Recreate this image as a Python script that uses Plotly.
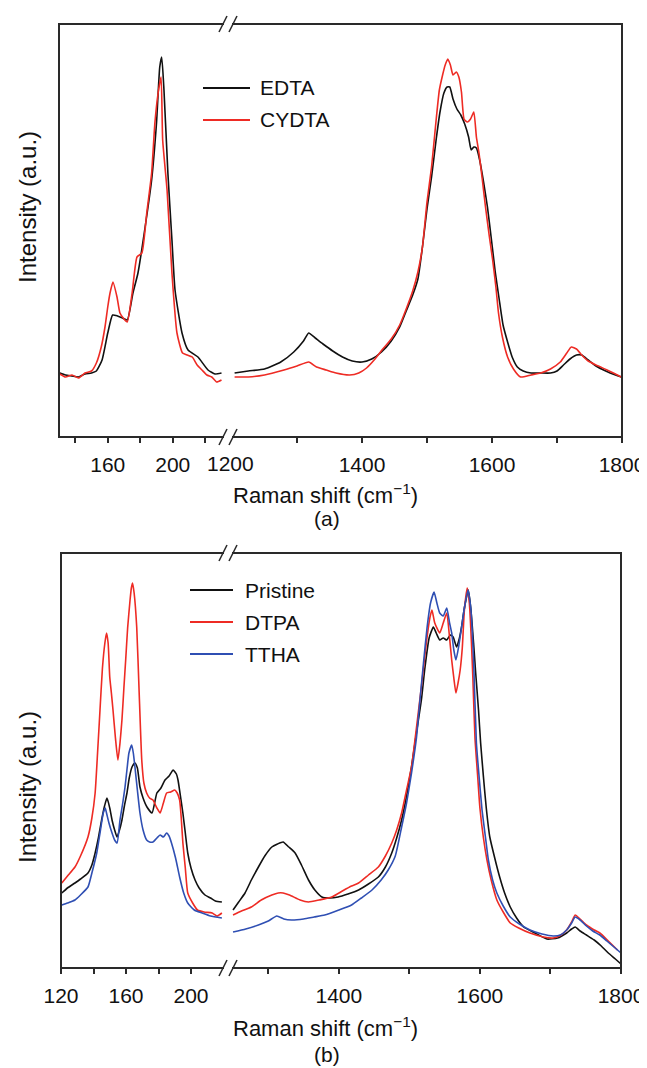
import plotly.graph_objects as go

# ---------------- data (heights in arbitrary units) ----------------
# Panel (a), low-wavenumber section
a_edta_low_x = [130.5, 134, 138, 142, 146, 150, 153, 156.5, 160, 163,
                166, 169, 172, 175.5, 178.6, 183, 187, 190, 192, 193.2,
                194.6, 197, 199.5, 201.4, 205.7, 209.4, 215.5, 221.7, 226, 230]
a_edta_low_y = [64, 62, 61, 60, 63, 64, 66, 77, 104, 122,
                121, 119, 117, 144, 164, 210, 257, 314, 370, 380,
                347, 264, 197, 147, 104, 87, 80, 67, 63, 64]

a_cydta_low_x = [130.5, 134, 138, 142, 146, 150, 153, 156, 158.3, 160,
                 161.4, 163.2, 165.7, 167.5, 170, 172, 175, 178, 181, 184,
                 187, 189, 191, 192.8, 193.8, 196.5, 199.5, 202.6, 206, 209,
                 212, 215, 218, 221, 224, 227, 230]
a_cydta_low_y = [63, 60, 62, 59, 64, 66, 74, 90, 110, 130,
                 144, 155, 140, 124, 118, 115, 144, 180, 184, 224,
                 264, 314, 344, 360, 297, 247, 164, 104, 84, 82,
                 80, 72, 67, 62, 60, 55, 57]

# Panel (a), high-wavenumber section
a_edta_high_x = [1204, 1225, 1250, 1275, 1295, 1310, 1318, 1328, 1340, 1355,
                 1370, 1385, 1400, 1415, 1430, 1445, 1458, 1468, 1478, 1486,
                 1493, 1500, 1507, 1514, 1520, 1526, 1531, 1535, 1540, 1546,
                 1552, 1558, 1564, 1568, 1572, 1576, 1581, 1587, 1593, 1599,
                 1605, 1611, 1617, 1624, 1631, 1639, 1648, 1660, 1675, 1690,
                 1700, 1710, 1720, 1730, 1738, 1748, 1760, 1775, 1790, 1799]
a_edta_high_y = [64, 66, 68, 75, 85, 96, 104, 99, 93, 86,
                 80, 76, 75, 78, 85, 96, 110, 126, 142, 158,
                 190, 228, 260, 297, 325, 344, 350, 350, 338, 328,
                 322, 313, 300, 287, 290, 289, 277, 255, 230, 198,
                 165, 138, 112, 95, 80, 70, 66, 64, 64, 64,
                 66, 72, 78, 82, 82, 77, 71, 66, 62, 60]

a_cydta_high_x = [1204, 1225, 1250, 1280, 1300, 1318, 1330, 1345, 1360, 1381,
                  1395, 1407, 1420, 1432, 1445, 1458, 1468, 1478, 1486, 1493,
                  1500, 1507, 1513, 1519, 1524, 1528, 1532, 1536, 1540, 1545,
                  1549, 1553, 1557, 1562, 1567, 1572, 1576, 1580, 1585, 1590,
                  1596, 1601, 1606, 1610, 1616, 1624, 1633, 1644, 1660, 1675,
                  1690, 1705, 1715, 1722, 1730, 1738, 1748, 1760, 1777, 1790,
                  1799]
a_cydta_high_y = [60, 60, 62, 67, 71, 75, 70, 67, 64, 62,
                  64, 69, 78, 88, 98, 112, 128, 146, 165, 190,
                  235, 270, 310, 347, 362, 372, 378, 372, 362, 365,
                  360, 345, 318, 315, 318, 325, 300, 284, 258, 230,
                  200, 177, 150, 124, 100, 80, 68, 60, 62, 64,
                  68, 75, 84, 90, 88, 82, 76, 72, 67, 63,
                  60]

# Panel (b), low-wavenumber section
b_pristine_low_x = [120.5, 124, 128.6, 132, 136.6, 139, 141, 143, 145, 146.8,
                    148.3, 150, 151.4, 153, 154.5, 156, 157.5, 159, 160.6, 162,
                    163.7, 165.5, 167, 168.6, 170.5, 172.9, 176, 179, 181.5, 184,
                    186.5, 189, 191, 192, 193.5, 195, 196.5, 198, 200, 202.5,
                    205, 208.6, 212, 215, 219]
b_pristine_low_y = [75, 80, 85, 89, 95, 103, 115, 130, 148, 162,
                    170, 160, 148, 138, 131, 138, 148, 162, 175, 190,
                    201, 205, 200, 181, 170, 161, 155, 175, 180, 188,
                    192, 198, 194, 188, 172, 155, 135, 115, 100, 88,
                    80, 73, 70, 67, 66]

b_dtpa_low_x = [120.5, 124, 128.6, 132, 136.6, 139, 141, 142.5, 144, 145.5,
                147, 148, 149, 150, 151, 152, 153.5, 155, 156.3, 157.5,
                158.7, 159.8, 161, 162.5, 163.3, 164, 165, 166.6, 168, 169.7,
                171, 172.7, 174.5, 176.6, 179, 181, 183, 185, 187.5, 190,
                191.5, 193, 194, 195, 196.5, 198, 201, 204, 208, 213,
                216, 219]
b_dtpa_low_y = [85, 92, 101, 112, 131, 150, 175, 215, 258, 300,
                325, 335, 325, 291, 275, 258, 230, 208, 225, 248,
                280, 308, 340, 368, 380, 385, 375, 341, 280, 208,
                185, 175, 170, 168, 160, 155, 165, 175, 176, 178,
                175, 168, 150, 125, 100, 75, 65, 58, 56, 55,
                52, 55]

b_ttha_low_x = [120.5, 124, 128.6, 132, 136.6, 139, 142, 144, 146, 147.2,
                148, 149.5, 151.4, 153, 154.5, 156.3, 158, 159.4, 160.7, 161.8,
                163.5, 164.5, 165.5, 167, 168.6, 170.5, 172.7, 174.5, 176.6, 179,
                181, 183, 185, 186.5, 188, 190.5, 193, 195.5, 198, 202,
                206.8, 212, 219]
b_ttha_low_y = [63, 65, 68, 73, 81, 95, 115, 135, 155, 160,
                155, 145, 135, 128, 125, 148, 165, 181, 200, 215,
                223, 215, 201, 178, 155, 138, 128, 126, 126, 130,
                133, 131, 135, 132, 125, 110, 91, 75, 65, 58,
                55, 52, 50]

# Panel (b), high-wavenumber section
b_pristine_high_x = [1250, 1258, 1267, 1276, 1286, 1295, 1305, 1313, 1321, 1329,
                     1338, 1347, 1357, 1366, 1376, 1387, 1399, 1413, 1428, 1442,
                     1456, 1466, 1475, 1482, 1489, 1496, 1503, 1510, 1517, 1522,
                     1528, 1534, 1538, 1543, 1548, 1553, 1558, 1562, 1567, 1571,
                     1574, 1578, 1583.5, 1587, 1591, 1594, 1598, 1601, 1605, 1609,
                     1614, 1621, 1628, 1635, 1643, 1652, 1662, 1678, 1695, 1710,
                     1723, 1730, 1735, 1742, 1751, 1762, 1772, 1782, 1792, 1800]
b_pristine_high_y = [58, 66, 75, 88, 101, 112, 121, 124, 126, 121,
                     115, 103, 88, 78, 71, 70, 71, 74, 78, 84,
                     91, 101, 115, 130, 148, 172, 201, 235, 268, 300,
                     330, 341, 335, 328, 330, 328, 333, 331, 321, 330,
                     341, 360, 378, 360, 325, 295, 258, 225, 191, 160,
                     131, 110, 91, 75, 61, 50, 41, 35, 29, 30,
                     35, 39, 41, 37, 33, 28, 22, 15, 9, 4]

b_dtpa_high_x = [1250, 1262, 1276, 1290, 1305, 1314, 1321, 1330, 1345, 1357,
                 1372, 1390, 1405, 1418, 1428, 1442, 1456, 1466, 1475, 1482,
                 1489, 1496, 1503, 1510, 1517, 1524, 1529, 1532, 1536, 1543,
                 1548, 1553, 1557, 1560, 1563, 1566, 1569, 1572, 1575, 1578,
                 1582, 1585, 1588, 1590, 1593, 1597, 1600, 1605, 1610, 1616,
                 1624, 1633, 1643, 1655, 1671, 1690, 1704, 1715, 1723, 1730,
                 1735, 1742, 1751, 1762, 1770, 1782, 1795]
b_dtpa_high_y = [53, 57, 61, 68, 73, 75, 75, 73, 68, 66,
                 68, 71, 77, 82, 85, 93, 101, 112, 125, 138,
                 155, 178, 201, 240, 281, 325, 350, 358, 345, 335,
                 345, 355, 330, 308, 290, 275, 285, 298, 320, 358,
                 380, 365, 325, 290, 230, 190, 160, 130, 108, 88,
                 68, 56, 45, 40, 35, 31, 30, 33, 38, 46,
                 53, 49, 43, 38, 35, 27, 18]

b_ttha_high_x = [1250, 1268, 1286, 1300, 1312, 1322, 1333, 1350, 1365, 1380,
                 1400, 1418, 1432, 1447, 1460, 1470, 1480, 1489, 1496, 1503,
                 1510, 1515, 1520, 1525, 1530, 1535, 1539, 1543, 1548, 1553,
                 1557, 1560, 1563, 1566, 1570, 1574, 1578, 1583, 1587, 1591,
                 1595, 1599, 1603, 1608, 1612, 1618, 1624, 1633, 1643, 1656,
                 1671, 1688, 1704, 1714, 1723, 1730, 1735, 1742, 1751, 1760,
                 1770, 1780, 1790, 1800]
b_ttha_high_y = [36, 39, 43, 47, 52, 49, 48, 49, 51, 53,
                 58, 63, 70, 78, 88, 98, 112, 141, 165, 195,
                 230, 268, 305, 340, 365, 376, 365, 355, 352, 360,
                 345, 335, 318, 308, 322, 341, 360, 378, 360, 308,
                 225, 190, 158, 130, 108, 88, 75, 62, 51, 44,
                 38, 34, 32, 33, 38, 45, 51, 48, 42, 37,
                 33, 27, 21, 15]

a_names = ["EDTA", "CYDTA"]
b_names = ["Pristine", "DTPA", "TTHA"]
a_low_ticks = [160, 200]
a_low_minor = [140, 180, 220]
a_high_ticks = [1400, 1600, 1800]
a_high_minor = [1300, 1500, 1700]
b_low_ticks = [120, 160, 200]
b_low_minor = [140, 180]
b_high_ticks = [1400, 1600, 1800]
b_high_minor = [1300, 1500, 1700]

# ---------------- styling / layout ----------------
# the page body adds an 8 px margin, so the figure is 8 px smaller and
# all window-pixel positions below are shifted by that offset
OFF = 8
WIN_W, WIN_H = 647, 1068
W, H = WIN_W - OFF, WIN_H - OFF
BLACK = "#111111"
RED = "#ee2b24"
BLUE = "#2f4fb3"
FRAME = "#2a2a2a"
FONT = "Liberation Sans, Arial, sans-serif"
FS = 21


def fx(px):
    return (px - OFF) / W


def fy(py):
    return 1 - (py - OFF) / H


fig = go.Figure()


def add(x, y, color, xa, ya, width=1.6):
    fig.add_trace(go.Scatter(x=x, y=y, mode="lines", xaxis=xa, yaxis=ya,
                             line=dict(color=color, width=width,
                                       shape="spline", smoothing=0.5),
                             showlegend=False, hoverinfo="skip"))


add(a_edta_low_x, a_edta_low_y, BLACK, "x", "y")
add(a_edta_high_x, a_edta_high_y, BLACK, "x2", "y")
add(a_cydta_low_x, a_cydta_low_y, RED, "x", "y")
add(a_cydta_high_x, a_cydta_high_y, RED, "x2", "y")

add(b_pristine_low_x, b_pristine_low_y, BLACK, "x3", "y2")
add(b_pristine_high_x, b_pristine_high_y, BLACK, "x4", "y2")
add(b_dtpa_low_x, b_dtpa_low_y, RED, "x3", "y2")
add(b_dtpa_high_x, b_dtpa_high_y, RED, "x4", "y2")
add(b_ttha_low_x, b_ttha_low_y, BLUE, "x3", "y2")
add(b_ttha_high_x, b_ttha_high_y, BLUE, "x4", "y2")

# panel geometry in window pixels
A = dict(l=59, brk=228, r=622, t=24, b=437)
B = dict(l=61, brk=228, r=621, t=553, b=968)


def xax(dom, rng, tv, mv, anchor):
    return dict(domain=[fx(dom[0]), fx(dom[1])], range=rng, anchor=anchor,
                automargin=False,
                tickmode="array", tickvals=tv,
                ticks="outside", ticklen=5, tickwidth=1.5, tickcolor=FRAME,
                minor=dict(tickmode="array", tickvals=mv, ticks="outside",
                           ticklen=5, tickwidth=1.5, tickcolor=FRAME,
                           showgrid=False),
                showline=False, showgrid=False, zeroline=False,
                tickfont=dict(family=FONT, size=FS, color="#111"),
                ticklabelstandoff=4)


def yax(top, bot, anchor):
    return dict(domain=[fy(bot), fy(top)], range=[0, bot - top], anchor=anchor,
                automargin=False,
                showticklabels=False, ticks="", showgrid=False,
                zeroline=False, showline=False)


a_low_rng = [130, 130 + (A["brk"] - A["l"]) / 1.625]
a_high_rng = [1200 - (232 - A["brk"]) / 0.65, 1800]
b_low_rng = [120, 120 + (B["brk"] - B["l"]) / 1.625]
b_high_rng = [1300 - (268.3 - B["brk"]) / 0.7054, 1800]

fig.update_layout(
    template="none",
    width=W, height=H,
    margin=dict(l=0, r=0, t=0, b=0, pad=0),
    paper_bgcolor="white", plot_bgcolor="white",
    font=dict(family=FONT, size=FS, color="#111"),
    showlegend=False,
    xaxis=xax((A["l"], A["brk"]), a_low_rng, a_low_ticks, a_low_minor, "y"),
    xaxis2=xax((A["brk"], A["r"]), a_high_rng, a_high_ticks, a_high_minor, "y"),
    yaxis=yax(A["t"], A["b"], "x"),
    xaxis3=xax((B["l"], B["brk"]), b_low_rng, b_low_ticks, b_low_minor, "y2"),
    xaxis4=xax((B["brk"], B["r"]), b_high_rng, b_high_ticks, b_high_minor, "y2"),
    yaxis2=yax(B["t"], B["b"], "x3"),
)

shapes = []
annots = []


def line(x0, y0, x1, y1, color=FRAME, width=2):
    shapes.append(dict(type="line", xref="paper", yref="paper",
                       x0=fx(x0), y0=fy(y0), x1=fx(x1), y1=fy(y1),
                       line=dict(color=color, width=width), layer="above"))


def text(x, y, s, anchor="center", size=FS, angle=0):
    annots.append(dict(xref="paper", yref="paper", x=fx(x), y=fy(y), text=s,
                       showarrow=False, xanchor=anchor, yanchor="middle",
                       textangle=angle,
                       font=dict(family=FONT, size=size, color="#111")))


def frame(P):
    g0, g1 = P["brk"] - 4, P["brk"] + 4
    line(P["l"], P["t"], P["l"], P["b"])
    line(P["r"], P["t"], P["r"], P["b"])
    for yy in (P["t"], P["b"]):
        line(P["l"] - 1, yy, g0, yy)
        line(g1, yy, P["r"] + 1, yy)
        # break marks //
        line(g0 - 5, yy + 8, g0 + 3, yy - 8, width=1.6)
        line(g1 - 3, yy + 8, g1 + 5, yy - 8, width=1.6)


frame(A)
frame(B)

# labels panel (a)
text(230, 463, "1200")
text(325, 494, "Raman shift (cm<sup>−1</sup>)", size=22)
text(327, 518, "(a)")
text(27, 207, "Intensity (a.u.)", angle=-90, size=24)
# legend (a)
line(203, 88, 250, 88, color=BLACK, width=2)
line(203, 120, 250, 120, color=RED, width=2)
text(258, 88, a_names[0], anchor="left")
text(258, 120, a_names[1], anchor="left")

# labels panel (b)
text(325, 1027, "Raman shift (cm<sup>−1</sup>)", size=22)
text(327, 1054, "(b)")
text(27, 787, "Intensity (a.u.)", angle=-90, size=24)
# legend (b)
for i, (nm, col) in enumerate(zip(b_names, [BLACK, RED, BLUE])):
    yy = 590 + i * 32
    line(190, yy, 233, yy, color=col, width=2)
    text(243, yy, nm, anchor="left")

fig.update_layout(shapes=shapes, annotations=annots)
fig.write_html("out.html")
